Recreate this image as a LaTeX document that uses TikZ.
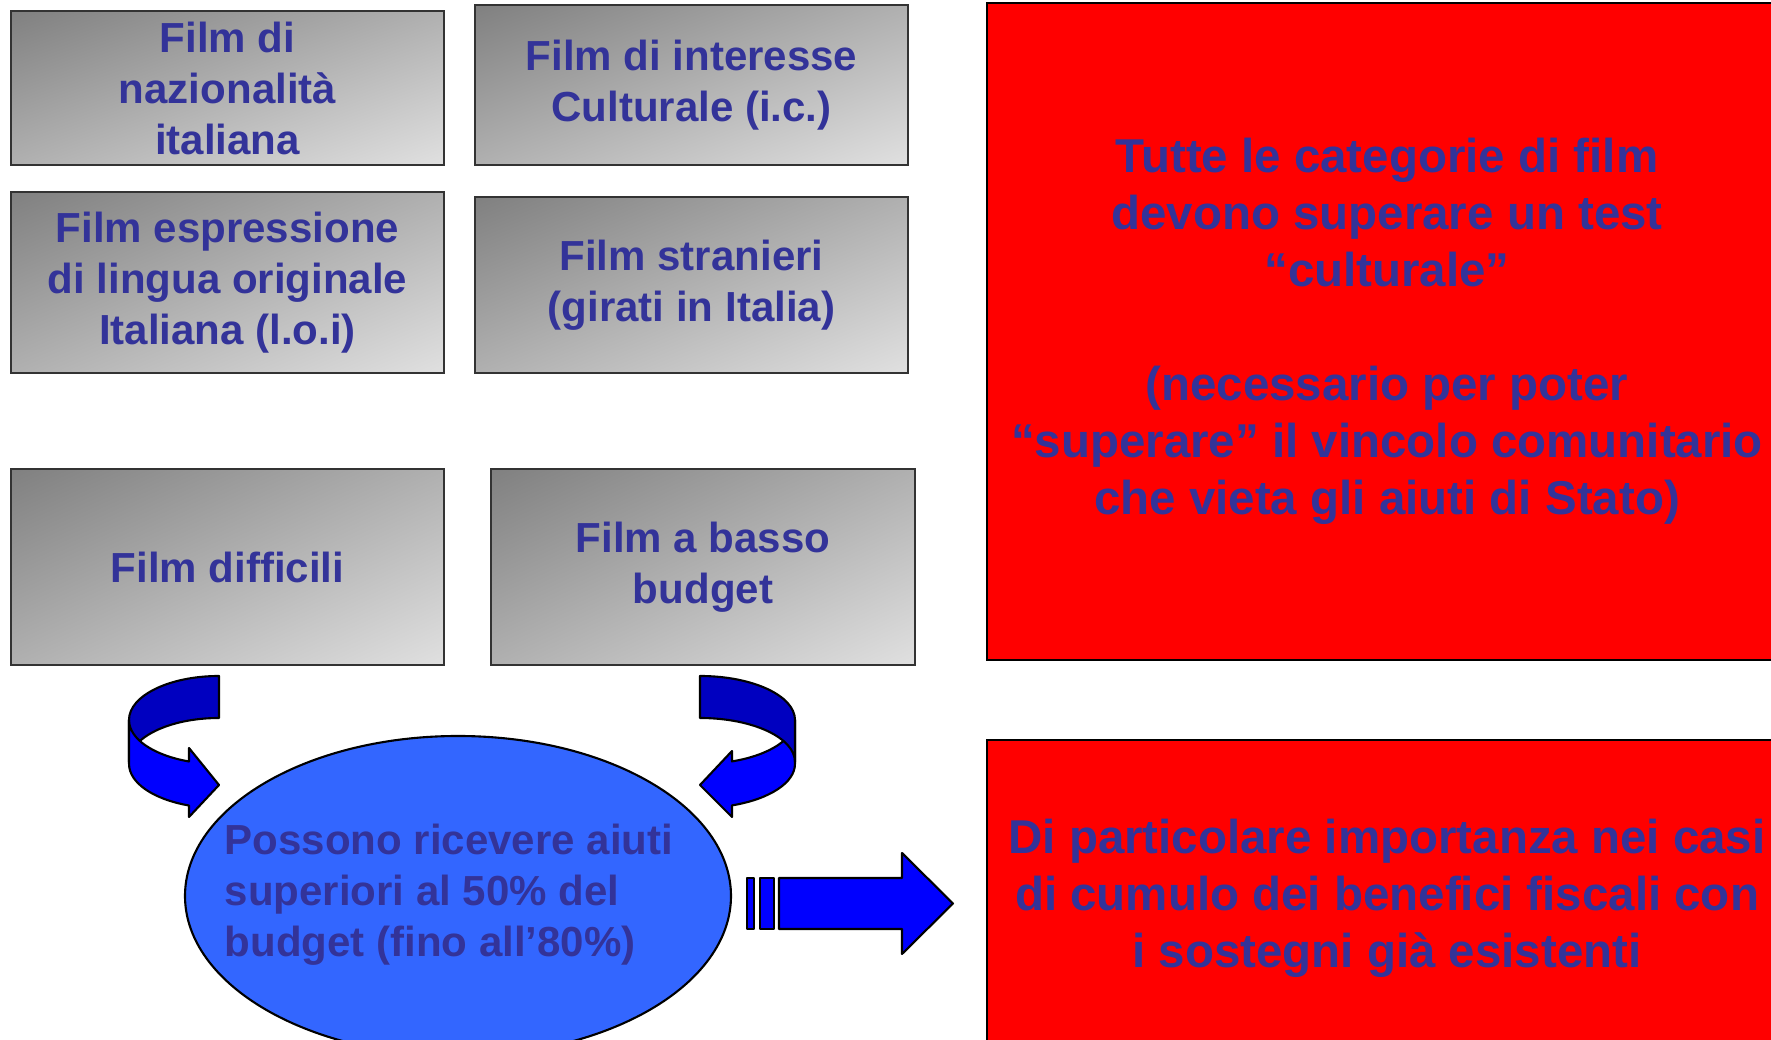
\documentclass[tikz,border=0pt]{standalone}
\usepackage{fontspec}
\setmainfont{Liberation Sans}
\usetikzlibrary{shapes.geometric,shadings}
\definecolor{ink}{RGB}{51,51,153}
\definecolor{boxdark}{RGB}{128,128,128}
\definecolor{boxmid}{RGB}{176,176,176}
\definecolor{boxlight}{RGB}{224,224,224}
\definecolor{blobblue}{RGB}{51,102,255}
\definecolor{bandback}{RGB}{0,0,192}
\definecolor{bandfront}{RGB}{0,0,255}

\begin{document}
\begin{tikzpicture}
                [x=0.01cm,y=-0.01cm,
                sz/.style 2 args={minimum width=#1*0.01cm,minimum height=#2*0.01cm},
                greybox/.style={rectangle,draw=black!80,line width=0.6pt,inner sep=0pt,shade,
                  upper left=boxdark,upper right=boxmid,lower left=boxmid,lower right=boxlight,
                  text=ink,align=center,font=\bfseries\fontsize{11.95}{14.5}\selectfont},
                redbox/.style={rectangle,draw=black,line width=0.5pt,fill=red,inner sep=0pt,
                  text=ink,align=center,font=\bfseries\fontsize{13.5}{16.2}\selectfont},
                blob/.style={ellipse,draw=black,line width=0.6pt,fill=blobblue,inner sep=0pt},
                lbl/.style={text=ink,align=left,inner sep=0pt,font=\bfseries\fontsize{11.95}{14.5}\selectfont},
                band/.style={draw=black,line width=0.6pt,line join=round}
                ]
            \useasboundingbox (0,0) rectangle (1771,1040);
            \clip (0,0) rectangle (1771,1040);
            \node[greybox,sz={433}{154}] (nat) at (227.5,88) {Film di\\nazionalità\\italiana};
            \node[greybox,sz={433}{160}] (ic) at (691.5,85) {Film di interesse\\Culturale (i.c.)};
            \node[greybox,sz={433}{181}] (loi) at (227.5,282.5) {Film espressione\\di lingua originale\\Italiana (l.o.i)};
            \node[greybox,sz={433}{176}] (abroad) at (691.5,285) {Film stranieri\\(girati in Italia)};
            \node[greybox,sz={433}{196}] (hard) at (227.5,567) {Film difficili};
            \node[greybox,sz={424}{196}] (low) at (703,567) {Film a basso\\budget};
            \node[redbox,sz={800}{657}] (test) at (1387,331.5) {Tutte le categorie di film\\devono superare un test\\“culturale”\\[16.2pt](necessario per poter\\“superare” il vincolo comunitario\\che vieta gli aiuti di Stato)};
            \node[redbox,sz={800}{316}] (cumulo) at (1387,898) {Di particolare importanza nei casi\\di cumulo dei benefici fiscali con\\i sostegni già esistenti};
            \node[blob,sz={546}{320}] (aid) at (458,896) {};
            \node[lbl,anchor=west] (aidtxt) at (224,895) {Possono ricevere aiuti\\superiori al 50\% del\\budget (fino all’80\%)};
            \path[band,fill=bandback] (219,676) arc[start angle=270,end angle=180,x radius=90,y radius=44]
              -- (129,762) arc[start angle=180,end angle=270,x radius=90,y radius=44] -- cycle;
            \path[band,fill=bandfront] (129,720) arc[start angle=180,end angle=109.5,x radius=90,y radius=44]
              -- (189,748) -- (219,785) -- (189,817) -- (189,805.5)
              arc[start angle=109.5,end angle=180,x radius=90,y radius=44] -- cycle;
            \path[band,fill=bandfront] (795,720) arc[start angle=0,end angle=70.3,x radius=95,y radius=44]
              -- (732,751) -- (700,785) -- (732,817) -- (732,805.4)
              arc[start angle=70.3,end angle=0,x radius=95,y radius=44] -- cycle;
            \path[band,fill=bandback] (700,676) arc[start angle=270,end angle=360,x radius=95,y radius=44]
              -- (795,762) arc[start angle=0,end angle=-90,x radius=95,y radius=44] -- cycle;
            \path[band,fill=bandfront] (747,878) rectangle (754,929);
            \path[band,fill=bandfront] (760,878) rectangle (774,929);
            \path[band,fill=bandfront] (779,878) -- (902,878) -- (902,853) -- (953,903.5)
              -- (902,954) -- (902,929) -- (779,929) -- cycle;
            \end{tikzpicture}
\end{document}
